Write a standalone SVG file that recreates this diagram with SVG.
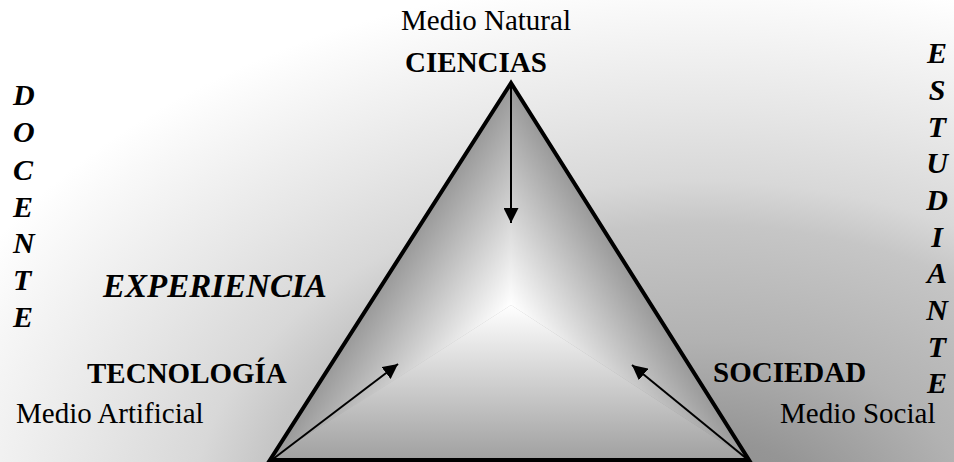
<svg xmlns="http://www.w3.org/2000/svg" width="954" height="462" viewBox="0 0 954 462">
<style>
text{fill:#000;font-family:'Liberation Serif','Times New Roman',Times,serif}
.r{font-size:29px}
.b{font-size:29px;font-weight:bold}
.bi{font-size:30px;font-weight:bold;font-style:italic}
.conn{stroke:#000;stroke-width:2;fill:none}
</style>
<defs>
<radialGradient id="bg" gradientUnits="objectBoundingBox" cx="0.693" cy="1.065" r="0.7106">
<stop offset="0" stop-color="#8c8c8c"/>
<stop offset="0.15" stop-color="#959595"/>
<stop offset="0.33" stop-color="#b2b2b2"/>
<stop offset="0.54" stop-color="#c6c6c6"/>
<stop offset="0.62" stop-color="#d8d8d8"/>
<stop offset="0.75" stop-color="#e6e6e6"/>
<stop offset="0.86" stop-color="#f1f1f1"/>
<stop offset="1" stop-color="#ffffff"/>
</radialGradient>
<linearGradient id="gL" gradientUnits="userSpaceOnUse" x1="410.2" y1="240.6" x2="511" y2="305">
<stop offset="0" stop-color="#999"/><stop offset="1" stop-color="#fff"/>
</linearGradient>
<linearGradient id="gR" gradientUnits="userSpaceOnUse" x1="611.2" y1="241.7" x2="511" y2="305">
<stop offset="0" stop-color="#999"/><stop offset="1" stop-color="#fff"/>
</linearGradient>
<linearGradient id="gB" gradientUnits="userSpaceOnUse" x1="511" y1="460" x2="511" y2="305">
<stop offset="0" stop-color="#a0a0a0"/><stop offset="1" stop-color="#fff"/>
</linearGradient>
<marker id="ah" viewBox="0 0 10 10" refX="10" refY="5" markerWidth="7.5" markerHeight="7.5" orient="auto" markerUnits="strokeWidth">
<path d="M0,0 L10,5 L0,10 z" fill="#000"/>
</marker>
</defs>
<rect x="-100" y="-300" width="1154" height="770" fill="url(#bg)"/>
<g id="triangle">
<polygon points="511,83 270,460 511,305" fill="url(#gL)"/>
<polygon points="511,83 749,460 511,305" fill="url(#gR)"/>
<polygon points="270,460 749,460 511,305" fill="url(#gB)"/>
<polygon points="511,83 270,460 749,460" fill="none" stroke="#000" stroke-width="4" stroke-linejoin="miter"/>
</g>
<g id="connectors">
<line class="conn" x1="511" y1="85" x2="511" y2="223" marker-end="url(#ah)"/>
<line class="conn" x1="273" y1="459" x2="398" y2="364" marker-end="url(#ah)"/>
<line class="conn" x1="747" y1="459" x2="632" y2="365" marker-end="url(#ah)"/>
</g>
<g id="ciencias">
<text class="r" x="486" y="30" text-anchor="middle">Medio Natural</text>
<text class="b" x="476" y="72" text-anchor="middle">CIENCIAS</text>
</g>
<g id="tecnologia">
<text class="b" x="87" y="383">TECNOLOGÍA</text>
<text class="r" x="16" y="423">Medio Artificial</text>
</g>
<g id="sociedad">
<text class="b" x="713" y="382">SOCIEDAD</text>
<text class="r" x="780" y="423">Medio Social</text>
</g>
<g id="experiencia">
<text x="103" y="297" font-size="33" font-weight="bold" font-style="italic">EXPERIENCIA</text>
</g>
<g id="docente">
<text class="bi" x="13" y="105">D</text>
<text class="bi" x="13" y="142">O</text>
<text class="bi" x="13" y="180">C</text>
<text class="bi" x="13" y="217">E</text>
<text class="bi" x="13" y="253">N</text>
<text class="bi" x="13" y="290">T</text>
<text class="bi" x="13" y="327">E</text>
</g>
<g id="estudiante">
<text class="bi" x="937" y="63" text-anchor="middle">E</text>
<text class="bi" x="937" y="100" text-anchor="middle">S</text>
<text class="bi" x="937" y="137" text-anchor="middle">T</text>
<text class="bi" x="937" y="173" text-anchor="middle">U</text>
<text class="bi" x="937" y="210" text-anchor="middle">D</text>
<text class="bi" x="937" y="247" text-anchor="middle">I</text>
<text class="bi" x="937" y="283" text-anchor="middle">A</text>
<text class="bi" x="937" y="320" text-anchor="middle">N</text>
<text class="bi" x="937" y="357" text-anchor="middle">T</text>
<text class="bi" x="937" y="393" text-anchor="middle">E</text>
</g>
</svg>
